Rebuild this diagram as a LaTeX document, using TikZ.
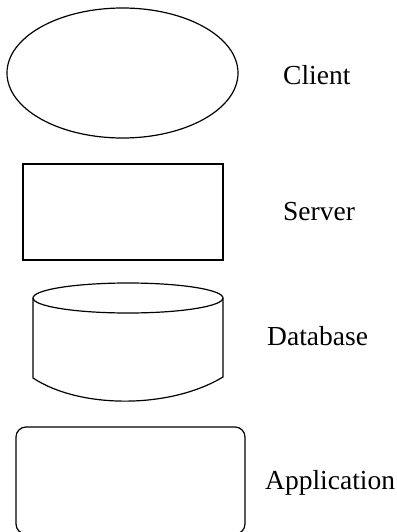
\documentclass[tikz,border=0pt]{standalone}
\usepackage{fontspec}
\setmainfont{Liberation Serif}
\begin{document}
\begin{tikzpicture}[x=1pt,y=-1pt,
  shapeline/.style={draw=black,line width=1.2pt},
  lbl/.style={anchor=base west,inner sep=0pt,font=\fontsize{27.5}{30}\selectfont}]
\useasboundingbox (0,0) rectangle (396,532);
\clip (0,0) rectangle (396,532);
% Client
\draw[shapeline] (122.5,73) ellipse [x radius=115.5, y radius=65];
\node[lbl] (client) at (283,85) {Client};
% Server
\draw[shapeline] (23,164) rectangle (223,260);
\node[lbl] (server) at (283,220) {Server};
% Database
\draw[shapeline] (128,298) ellipse [x radius=95, y radius=15];
\draw[shapeline] (33,298) -- (33,378) .. controls (80,409) and (170,409) .. (223,377) -- (223,298);
\node[lbl] (database) at (267,345) {Database};
% Application
\draw[shapeline,rounded corners=10pt] (16,427) rectangle (245,534);
\node[lbl] (application) at (265,489) {Application};
\end{tikzpicture}
\end{document}
